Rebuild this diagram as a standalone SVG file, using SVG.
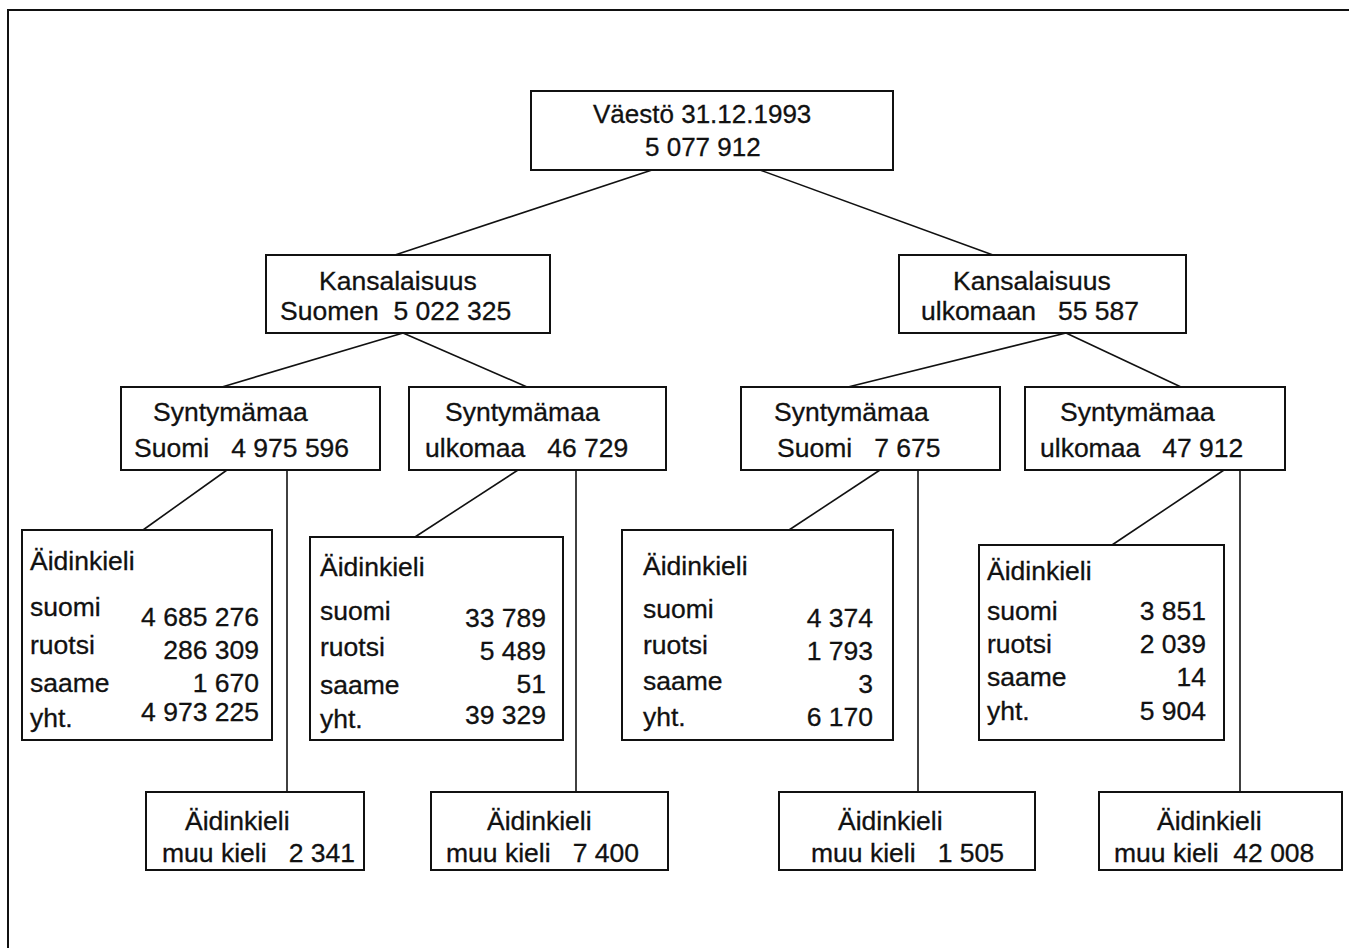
<svg xmlns="http://www.w3.org/2000/svg" width="1349" height="948" viewBox="0 0 1349 948" xml:space="preserve">
<style>
  .box { fill: #fff; stroke: #111; stroke-width: 2; }
  .frame { stroke: #111; stroke-width: 2; fill: none; }
  .conn line { stroke: #111; stroke-width: 1.6; }
  text { font-family: "Liberation Sans", Arial, Helvetica, sans-serif; font-size: 26.5px; fill: #111; stroke: #111; stroke-width: 0.3; white-space: pre; }
  .r { text-anchor: end; }
  .big { font-size: 26px; }
</style>
<rect width="1349" height="948" fill="#fff"/>
<path class="frame" d="M8,948 V10 H1349"/>

<g id="connectors" class="conn">
  <line x1="652" y1="170" x2="395" y2="255"/>
  <line x1="760" y1="170" x2="993" y2="255"/>
  <line x1="403" y1="333" x2="222" y2="387"/>
  <line x1="403" y1="333" x2="527" y2="387"/>
  <line x1="1066" y1="333" x2="848" y2="387"/>
  <line x1="1066" y1="333" x2="1181" y2="387"/>
  <line x1="227" y1="470" x2="143" y2="530"/>
  <line x1="287" y1="470" x2="287" y2="792"/>
  <line x1="518" y1="470" x2="415" y2="537"/>
  <line x1="576" y1="470" x2="576" y2="792"/>
  <line x1="880" y1="470" x2="789" y2="530"/>
  <line x1="918" y1="470" x2="918" y2="792"/>
  <line x1="1224" y1="470" x2="1112" y2="545"/>
  <line x1="1240" y1="470" x2="1240" y2="792"/>
</g>

<g id="vaesto">
  <rect class="box" x="531" y="91" width="362" height="79"/>
  <text class="big" x="593" y="123">Väestö 31.12.1993</text>
  <text class="big" x="645" y="156">5 077 912</text>
</g>

<g id="kans-suomen">
  <rect class="box" x="266" y="255" width="284" height="78"/>
  <text x="319" y="290">Kansalaisuus</text>
  <text x="280" y="320">Suomen  5 022 325</text>
</g>

<g id="kans-ulkomaan">
  <rect class="box" x="899" y="255" width="287" height="78"/>
  <text x="953" y="290">Kansalaisuus</text>
  <text x="921" y="320">ulkomaan   55 587</text>
</g>

<g id="synt-1">
  <rect class="box" x="121" y="387" width="259" height="83"/>
  <text x="153" y="421">Syntymämaa</text>
  <text x="134" y="457">Suomi   4 975 596</text>
</g>

<g id="synt-2">
  <rect class="box" x="409" y="387" width="257" height="83"/>
  <text x="445" y="421">Syntymämaa</text>
  <text x="425" y="457">ulkomaa   46 729</text>
</g>

<g id="synt-3">
  <rect class="box" x="741" y="387" width="259" height="83"/>
  <text x="774" y="421">Syntymämaa</text>
  <text x="777" y="457">Suomi   7 675</text>
</g>

<g id="synt-4">
  <rect class="box" x="1025" y="387" width="260" height="83"/>
  <text x="1060" y="421">Syntymämaa</text>
  <text x="1040" y="457">ulkomaa   47 912</text>
</g>

<g id="aidin-1">
  <rect class="box" x="22" y="530" width="250" height="210"/>
  <text x="30" y="570">Äidinkieli</text>
  <text x="30" y="616">suomi</text><text class="r" x="259" y="626">4 685 276</text>
  <text x="30" y="654">ruotsi</text><text class="r" x="259" y="659">286 309</text>
  <text x="30" y="692">saame</text><text class="r" x="259" y="692">1 670</text>
  <text x="30" y="727">yht.</text><text class="r" x="259" y="721">4 973 225</text>
</g>

<g id="aidin-2">
  <rect class="box" x="310" y="537" width="253" height="203"/>
  <text x="320" y="576">Äidinkieli</text>
  <text x="320" y="620">suomi</text><text class="r" x="546" y="627">33 789</text>
  <text x="320" y="656">ruotsi</text><text class="r" x="546" y="660">5 489</text>
  <text x="320" y="694">saame</text><text class="r" x="546" y="693">51</text>
  <text x="320" y="728">yht.</text><text class="r" x="546" y="724">39 329</text>
</g>

<g id="aidin-3">
  <rect class="box" x="622" y="530" width="271" height="210"/>
  <text x="643" y="575">Äidinkieli</text>
  <text x="643" y="618">suomi</text><text class="r" x="873" y="627">4 374</text>
  <text x="643" y="654">ruotsi</text><text class="r" x="873" y="660">1 793</text>
  <text x="643" y="690">saame</text><text class="r" x="873" y="693">3</text>
  <text x="643" y="726">yht.</text><text class="r" x="873" y="726">6 170</text>
</g>

<g id="aidin-4">
  <rect class="box" x="979" y="545" width="245" height="195"/>
  <text x="987" y="580">Äidinkieli</text>
  <text x="987" y="620">suomi</text><text class="r" x="1206" y="620">3 851</text>
  <text x="987" y="653">ruotsi</text><text class="r" x="1206" y="653">2 039</text>
  <text x="987" y="686">saame</text><text class="r" x="1206" y="686">14</text>
  <text x="987" y="720">yht.</text><text class="r" x="1206" y="720">5 904</text>
</g>

<g id="muu-1">
  <rect class="box" x="146" y="792" width="218" height="78"/>
  <text x="185" y="830">Äidinkieli</text>
  <text x="162" y="862">muu kieli   2 341</text>
</g>

<g id="muu-2">
  <rect class="box" x="431" y="792" width="237" height="78"/>
  <text x="487" y="830">Äidinkieli</text>
  <text x="446" y="862">muu kieli   7 400</text>
</g>

<g id="muu-3">
  <rect class="box" x="779" y="792" width="256" height="78"/>
  <text x="838" y="830">Äidinkieli</text>
  <text x="811" y="862">muu kieli   1 505</text>
</g>

<g id="muu-4">
  <rect class="box" x="1099" y="792" width="243" height="78"/>
  <text x="1157" y="830">Äidinkieli</text>
  <text x="1114" y="862">muu kieli  42 008</text>
</g>
</svg>
